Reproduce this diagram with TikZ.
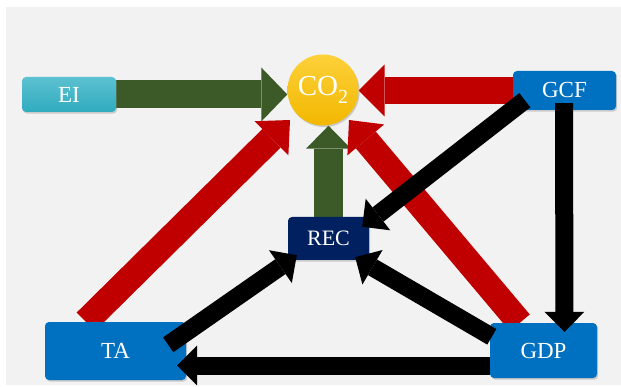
\documentclass[tikz,border=0pt]{standalone}
\usepackage{fontspec}
\setmainfont{Liberation Serif}
\usetikzlibrary{arrows.meta,shadows}
\definecolor{bggray}{HTML}{F2F2F2}
\definecolor{eitop}{HTML}{5CC1D0}
\definecolor{eibot}{HTML}{2FABBF}
\definecolor{boxblue}{HTML}{0070C0}
\definecolor{navy}{HTML}{002060}
\definecolor{goldtop}{HTML}{FDD13A}
\definecolor{goldbot}{HTML}{F2B700}
\definecolor{grn}{HTML}{3B5A27}
\definecolor{rd}{HTML}{C00000}
\pgfdeclarelayer{back}
\pgfsetlayers{back,main}
\begin{document}
\begin{tikzpicture}[x=1pt,y=-1pt,
  shad/.style={drop shadow={opacity=0.35,shadow xshift=1.2pt,shadow yshift=-1.6pt}},
  box/.style={rectangle,rounded corners=4pt,text=white,inner sep=0pt,
    font=\fontsize{23}{23}\selectfont,shad},
  garrow/.style={draw=grn,line width=28pt,-{Triangle[width=54pt,length=26pt,line width=0pt]}},
  gvarrow/.style={draw=grn,line width=29pt,-{Triangle[width=45pt,length=23pt,line width=0pt]}},
  rarrow/.style={draw=rd,line width=27pt,-{Triangle[width=52pt,length=26pt,line width=0pt]}},
  rdarrow/.style={draw=rd,line width=26pt,-{Triangle[width=48pt,length=26pt,line width=0pt]}},
  barrow/.style={draw=black,line width=18pt,-{Triangle[width=40pt,length=20pt,line width=0pt]}}
]
\useasboundingbox (0,0) rectangle (621,387);

% nodes
\node[box,top color=eitop,bottom color=eibot,minimum width=94pt,minimum height=35pt] (EI) at (69,94.5) {EI};
\node[circle,minimum size=71pt,inner sep=0pt,top color=goldtop,bottom color=goldbot,
  text=white,font=\fontsize{29}{29}\selectfont,shad] (CO2) at (323,90)
  {CO\raisebox{-0.3em}{\fontsize{20}{20}\selectfont 2}};
\node[box,fill=boxblue,minimum width=103pt,minimum height=39pt] (GCF) at (564.5,90.5) {GCF};
\node[box,fill=navy,minimum width=81pt,minimum height=43pt,font=\fontsize{22}{22}\selectfont] (REC) at (328.5,238.5) {REC};
\node[box,fill=boxblue,minimum width=141pt,minimum height=58pt] (TA) at (115.5,351) {TA};
\node[box,fill=boxblue,minimum width=107pt,minimum height=55pt] (GDP) at (543.5,350.5) {GDP};

% background and coloured arrows
\begin{pgfonlayer}{back}
  \fill[bggray] (6,7) rectangle (621,385);
  \draw[garrow] (EI.east) -- (CO2.west |- EI.east);
  \draw[rarrow] (GCF.west) -- (CO2.east |- GCF.west);
  \draw[gvarrow] (REC.north) -- (REC.north |- CO2.south);
  \draw[rdarrow] ([xshift=41pt]TA.north west) -- ([xshift=-33pt,yshift=-30pt]CO2.center);
  \draw[rdarrow] ([xshift=30pt]GDP.north west) -- ([xshift=26pt,yshift=-30pt]CO2.center);
\end{pgfonlayer}

% black arrows
\draw[barrow] ([xshift=12pt,yshift=10pt]GCF.south west) -- ([xshift=-7pt,yshift=-10pt]REC.north east);
\draw[barrow] ([xshift=-0.5pt,yshift=7pt]GCF.south) -- ([xshift=21pt,yshift=-9pt]GDP.north);
\draw[barrow] ([xshift=-18pt,yshift=-23pt]TA.north east) -- ([xshift=9pt,yshift=5pt]REC.south west);
\draw[barrow] ([xshift=2pt,yshift=-14pt]GDP.north west) -- ([xshift=-14pt,yshift=3pt]REC.south east);
\draw[barrow] ([yshift=-15pt]GDP.west) -- ([xshift=-9pt,yshift=-14.5pt]TA.east);
\end{tikzpicture}
\end{document}
